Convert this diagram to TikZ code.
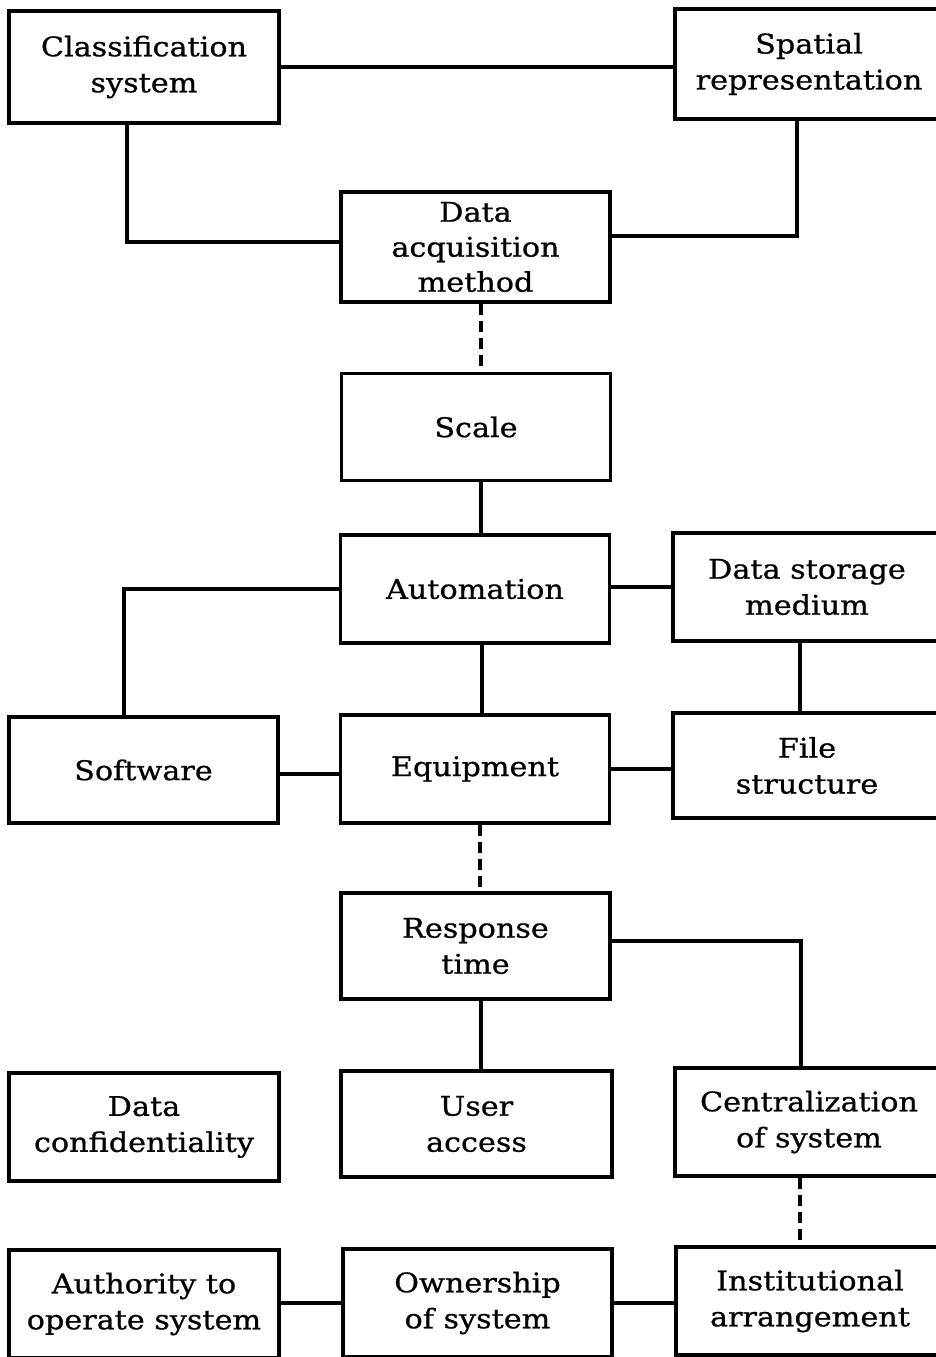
\documentclass[tikz,border=0pt]{standalone}
\usepackage{fontspec}
\setmainfont{DejaVu Serif}[FakeStretch=1.12, FakeBold=0.8]
\begin{document}
\begin{tikzpicture}[x=1pt,y=-1pt,
  box/.style={draw, line width=3.2pt, inner sep=0pt, align=center,
    font=\fontsize{27}{36}\selectfont, minimum width=269pt, minimum height=108pt},
  conn/.style={line width=3.2pt},
  dconn/.style={line width=3.8pt, dash pattern=on 11pt off 6pt}]
\useasboundingbox (0,0) rectangle (936,1357);
\fill[white] (0,0) rectangle (936,1357);
\begin{scope}
\clip (0,0) rectangle (936,1357);
% boxes, left / middle / right columns
\node[box, minimum width=270pt, minimum height=112pt] (cls) at (144,67) {Classification\\system};
\node[box, minimum width=268pt, minimum height=110pt] (spa) at (809,64) {Spatial\\representation};
\node[box, minimum height=110pt, font=\fontsize{27}{35}\selectfont] (acq) at (475.5,247) {Data\\acquisition\\method};
\node[box, minimum height=107pt] (scl) at (476,427) {Scale};
\node[box] (aut) at (475,589) {Automation};
\node[box, minimum width=268pt] (dsm) at (807,587) {Data storage\\medium};
\node[box, minimum height=106pt] (sw) at (143.5,770) {Software};
\node[box] (eq) at (475,769) {Equipment};
\node[box, minimum width=268pt, minimum height=105pt] (fs) at (807,765.5) {File\\structure};
\node[box, minimum height=106pt] (rt) at (475.5,946) {Response\\time};
\node[box, minimum width=270pt] (dc) at (144,1127) {Data\\confidentiality};
\node[box, minimum width=271pt, minimum height=106pt] (ua) at (476.5,1124) {User\\access};
\node[box, minimum width=268pt] (cen) at (809,1122) {Centralization\\of system};
\node[box, minimum width=270pt] (auth) at (144,1304) {Authority to\\operate system};
\node[box] (own) at (477.5,1303) {Ownership\\of system};
\node[box, minimum width=268pt] (inst) at (810,1301) {Institutional\\arrangement};
% connectors
\draw[conn] (cls.east) -- (cls.east -| spa.west);
\draw[conn] ([xshift=-17pt]cls.south) |- ([yshift=5pt]acq.west);
\draw[conn] ([xshift=-12pt]spa.south) |- ([yshift=11pt]acq.east);
\draw[dconn] ([xshift=5.5pt]acq.south) -- ([xshift=5.5pt]acq.south |- scl.north);
\draw[conn] ([xshift=5pt]scl.south) -- ([xshift=5pt]scl.south |- aut.north);
\draw[conn] (aut.west) -| ([xshift=-19.5pt]sw.north);
\draw[conn] ([yshift=2pt]aut.east) -- ([yshift=2pt]aut.east -| dsm.west);
\draw[conn] ([xshift=7pt]aut.south) -- ([xshift=7pt]aut.south |- eq.north);
\draw[conn] ([xshift=-7pt]dsm.south) -- ([xshift=-7pt]dsm.south |- fs.north);
\draw[conn] ([yshift=-4pt]sw.east) -- ([yshift=-4pt]sw.east -| eq.west);
\draw[conn] (eq.east) -- (eq.east -| fs.west);
\draw[dconn] ([xshift=5pt]eq.south) -- ([xshift=5pt]eq.south |- rt.north);
\draw[conn] ([yshift=5pt]rt.east) -| ([xshift=-8pt]cen.north);
\draw[conn] ([xshift=5.5pt]rt.south) -- ([xshift=5.5pt]rt.south |- ua.north);
\draw[dconn] ([xshift=-9pt]cen.south) -- ([xshift=-9pt]cen.south |- inst.north);
\draw[conn] ([yshift=1pt]auth.east) -- ([yshift=1pt]auth.east -| own.west);
\draw[conn] (own.east) -- (own.east -| inst.west);
\end{scope}
\end{tikzpicture}
\end{document}
